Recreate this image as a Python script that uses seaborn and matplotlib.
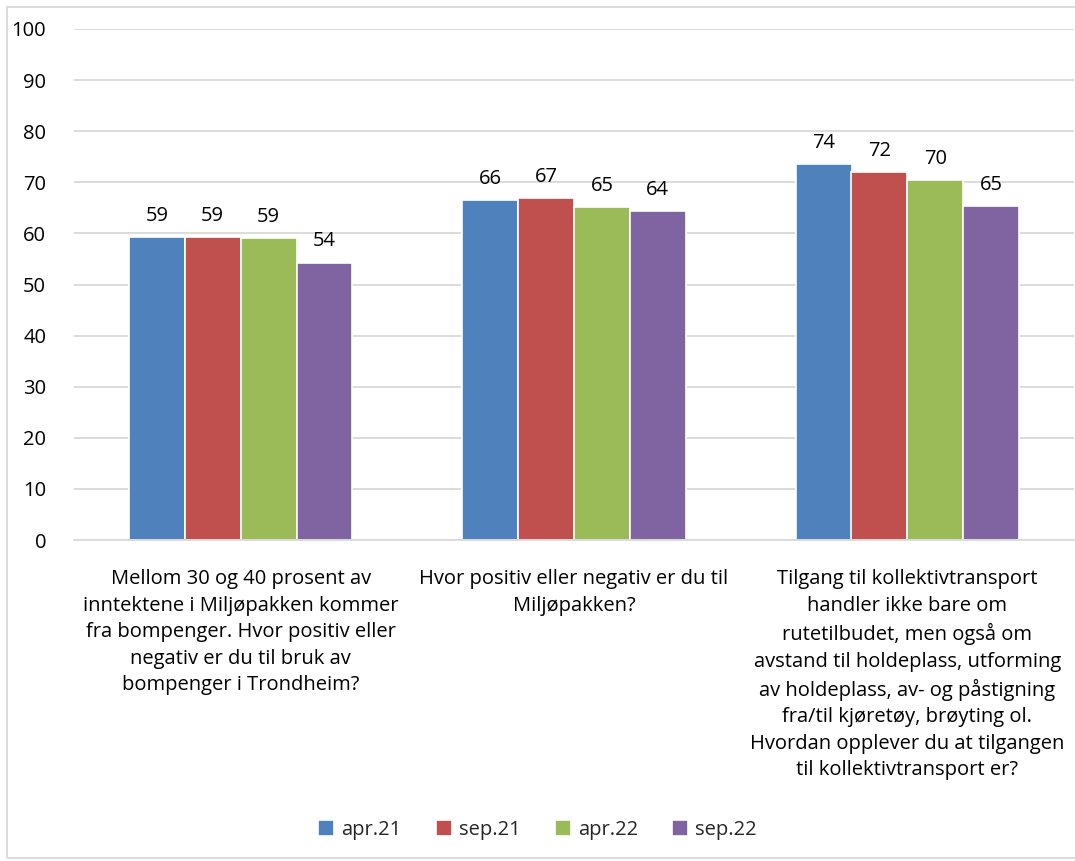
import matplotlib
matplotlib.use("Agg")
import matplotlib.pyplot as plt
import seaborn as sns
import pandas as pd
from matplotlib.patches import Rectangle

categories = [
    "Mellom 30 og 40 prosent av\ninntektene i Miljøpakken kommer\nfra bompenger. Hvor positiv eller\nnegativ er du til bruk av\nbompenger i Trondheim?",
    "Hvor positiv eller negativ er du til\nMiljøpakken?",
    "Tilgang til kollektivtransport\nhandler ikke bare om\nrutetilbudet, men også om\navstand til holdeplass, utforming\nav holdeplass, av- og påstigning\nfra/til kjøretøy, brøyting ol.\nHvordan opplever du at tilgangen\ntil kollektivtransport er?",
]
series = ["apr.21", "sep.21", "apr.22", "sep.22"]
apr21 = [59.3, 66.5, 73.6]
sep21 = [59.2, 66.9, 72.0]
apr22 = [59.1, 65.2, 70.4]
sep22 = [54.3, 64.4, 65.3]
colors = ["#4F81BD", "#C0504D", "#9BBB59", "#8064A2"]

rows = []
for s, vals in zip(series, [apr21, sep21, apr22, sep22]):
    for c, v in zip(categories, vals):
        rows.append({"cat": c, "series": s, "value": v})
df = pd.DataFrame(rows)

sns.set_theme(style="white")
plt.rcParams["font.family"] = ["Open Sans", "DejaVu Sans"]

fig = plt.figure(figsize=(10.75, 8.61), dpi=100)
ax = fig.add_axes([74 / 1075, 1 - 540 / 861, 1000 / 1075, (540 - 29) / 861])

sns.barplot(data=df, x="cat", y="value", hue="series", palette=colors,
            saturation=1, width=0.67, ax=ax, edgecolor="white", linewidth=1.2,
            legend=True)

for cont in ax.containers:
    ax.bar_label(cont, fmt="%.0f", padding=8, fontsize=14.5, color="#000000")

ax.set_ylim(0, 100)
ax.set_yticks(range(0, 101, 10))
ax.yaxis.grid(True, color="#D9D9D9", linewidth=1.3)
ax.set_axisbelow(True)
for sp in ["top", "right", "left"]:
    ax.spines[sp].set_visible(False)
ax.spines["bottom"].set_color("#D9D9D9")
ax.spines["bottom"].set_linewidth(1.3)
ax.set_xlabel("")
ax.set_ylabel("")
ax.tick_params(axis="y", labelsize=14.5, pad=20, length=0, labelcolor="#000000")
ax.tick_params(axis="x", labelsize=14.5, pad=21, length=0, labelcolor="#000000")
for t in ax.get_xticklabels():
    t.set_linespacing(1.43)
    t.set_va("top")

leg = ax.get_legend()
handles = leg.legend_handles
leg.remove()
fig.legend(handles, series, loc="center", bbox_to_anchor=(0.5, 1 - 830 / 861),
           ncol=4, frameon=False, fontsize=14.5, handlelength=0.8, handleheight=0.8,
           handletextpad=0.35, columnspacing=1.7)

fig.patches.append(Rectangle((7 / 1075, 3 / 861), 1.0, 1 - 10 / 861,
                             transform=fig.transFigure, fill=False,
                             edgecolor="#D9D9D9", linewidth=1.3))

fig.savefig("out.png", dpi=100, facecolor="white")
